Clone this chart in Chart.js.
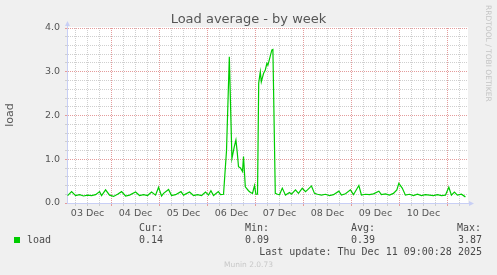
<!DOCTYPE html>
<html>
<head>
<meta charset="utf-8">
<title>Load average - by week</title>
<script src="https://cdn.jsdelivr.net/npm/chart.js@4/dist/chart.umd.min.js"></script>
<style>
  html, body { margin: 0; padding: 0; background: #f0f0f0; }
  #wrap { position: relative; width: 497px; height: 275px; overflow: hidden; }
  #chart { position: absolute; left: 0; top: 0; }
  .txt { position: absolute; white-space: pre; color: #4a4a4a; }
  .mono { font: 10px/12px "DejaVu Sans Mono", monospace; }
  .r { text-align: right; }
</style>
</head>
<body>
<div id="wrap">
  <canvas id="chart" width="497" height="275"></canvas>

  <div class="txt" style="left:0;width:497px;top:12px;text-align:center;font:13px/14px 'DejaVu Sans';color:#555">Load average - by week</div>
  <div class="txt" style="left:-10px;top:108px;width:40px;text-align:center;font:11px/14px 'DejaVu Sans';color:#555;transform:rotate(-90deg)">load</div>
  <div class="txt" style="left:484px;top:5px;writing-mode:vertical-rl;font:7.5px/8px 'DejaVu Sans';color:#c4c4c4">RRDTOOL / TOBI OETIKER</div>

  <!-- legend -->
  <div class="txt mono r" style="right:334px;top:222px">Cur:</div>
  <div class="txt mono r" style="right:228px;top:222px">Min:</div>
  <div class="txt mono r" style="right:122px;top:222px">Avg:</div>
  <div class="txt mono r" style="right:16px;top:222px">Max:</div>
  <div style="position:absolute;left:14px;top:237px;width:6px;height:6px;background:#00cc00"></div>
  <div class="txt mono" style="left:27px;top:234px">load</div>
  <div class="txt mono r" id="v-cur" style="right:334px;top:234px"></div>
  <div class="txt mono r" id="v-min" style="right:228px;top:234px"></div>
  <div class="txt mono r" id="v-avg" style="right:122px;top:234px"></div>
  <div class="txt mono r" id="v-max" style="right:15px;top:234px"></div>
  <div class="txt mono r" style="right:15px;top:246px">Last update: Thu Dec 11 09:00:28 2025</div>
  <div class="txt" style="left:0;width:497px;top:260px;text-align:center;font:7.5px/9px 'DejaVu Sans';color:#c8c8c8">Munin 2.0.73</div>
</div>

<script>
// --- data (hours since 03 Dec 00:00, load) ---
const loadHours = [
  2, 4, 6, 8, 10, 12, 14, 16, 18, 19, 21, 23, 25, 27, 29, 31, 33, 36, 38, 40,
  42, 44, 46, 47.5, 49, 50, 52.5, 54, 56, 58.7, 60, 63, 65, 67, 69, 71, 72.5, 73.7, 75, 77.4,
  78.5, 80, 81.5, 82.9, 84.2, 85.4, 86.2, 86.9, 87.5, 88.5, 89.5, 90, 90.9, 92.5, 93.5, 94.5, 95.5, 96.2, 97, 97.6,
  98.4, 98.9, 100, 100.9, 101.7, 102.2, 102.9, 103.5, 104.2, 104.7, 105.9, 107, 108, 109.4, 111, 113, 114, 116, 117.5, 119.4,
  121, 122, 124, 125.5, 127, 129, 131, 133, 135, 137.7, 139, 141, 143.5, 145, 147.7, 149, 151, 153, 155, 157.7,
  159, 161, 163, 165, 166.7, 167.7, 169.4, 171, 173, 175, 177, 179, 181, 183, 185, 187, 189, 191, 192.7, 194,
  195.5, 197, 199, 201
];
const loadValues = [
  0.17, 0.26, 0.17, 0.19, 0.16, 0.18, 0.17, 0.19, 0.26, 0.17, 0.30, 0.18, 0.15, 0.20, 0.26, 0.16, 0.18, 0.25, 0.17, 0.19,
  0.17, 0.25, 0.18, 0.36, 0.16, 0.22, 0.31, 0.17, 0.19, 0.26, 0.18, 0.25, 0.17, 0.19, 0.17, 0.25, 0.18, 0.28, 0.17, 0.26,
  0.19, 0.20, 1.20, 3.34, 1.02, 1.29, 1.44, 1.14, 0.83, 0.80, 0.72, 1.06, 0.37, 0.28, 0.24, 0.22, 0.40, 0.20, 0.20, 2.74,
  3.00, 2.77, 2.96, 3.04, 3.19, 3.15, 3.27, 3.38, 3.50, 3.51, 0.22, 0.20, 0.19, 0.34, 0.18, 0.24, 0.20, 0.30, 0.22, 0.34,
  0.26, 0.30, 0.39, 0.22, 0.20, 0.18, 0.20, 0.17, 0.19, 0.27, 0.18, 0.21, 0.30, 0.19, 0.40, 0.18, 0.20, 0.19, 0.21, 0.27,
  0.19, 0.21, 0.18, 0.22, 0.30, 0.45, 0.34, 0.18, 0.20, 0.17, 0.20, 0.17, 0.19, 0.18, 0.17, 0.19, 0.17, 0.18, 0.36, 0.18,
  0.25, 0.18, 0.20, 0.14
];
const dayLabels = ['03 Dec', '04 Dec', '05 Dec', '06 Dec', '07 Dec', '08 Dec', '09 Dec', '10 Dec'];
const yTickLabels = ['0.0', '1.0', '2.0', '3.0', '4.0'];
const summary = { cur: '0.14', min: '0.09', avg: '0.39', max: '3.87' };

// visible window in hours (left edge / right edge of the graph)
const X_MIN = 1.7, X_MAX = 202.3;
const MINOR_GRID = '#cfcfcf';
const MAJOR_GRID = '#e49c9c';
const AXIS_COLOR = '#c8cff5';

document.getElementById('v-cur').innerText = summary.cur;
document.getElementById('v-min').innerText = summary.min;
document.getElementById('v-avg').innerText = summary.avg;
document.getElementById('v-max').innerText = summary.max;

// plot background + axis arrows
const muninFrame = {
    id: 'muninFrame',
    beforeDraw(chart) {
        const { ctx, chartArea: a } = chart;
        ctx.save();
        ctx.fillStyle = '#ffffff';
        ctx.fillRect(a.left, a.top - 1, a.right - a.left, a.bottom - a.top + 1);
        ctx.restore();
    },
    afterDraw(chart) {
        const { ctx, chartArea: a } = chart;
        const x0 = Math.round(a.left) + 0.5, y0 = Math.round(a.bottom) + 0.5;
        ctx.save();
        ctx.strokeStyle = AXIS_COLOR;
        ctx.fillStyle = AXIS_COLOR;
        ctx.lineWidth = 1;
        ctx.beginPath();
        ctx.moveTo(x0, a.top); ctx.lineTo(x0, a.top - 3);
        ctx.moveTo(a.right, y0); ctx.lineTo(a.right + 3, y0);
        ctx.stroke();
        // up arrow
        ctx.beginPath();
        ctx.moveTo(x0 - 2.5, a.top - 2);
        ctx.lineTo(x0 + 2.5, a.top - 2);
        ctx.lineTo(x0, a.top - 7);
        ctx.closePath();
        ctx.fill();
        // right arrow
        ctx.beginPath();
        ctx.moveTo(a.right + 1, y0 - 2.5);
        ctx.lineTo(a.right + 1, y0 + 2.5);
        ctx.lineTo(a.right + 6, y0);
        ctx.closePath();
        ctx.fill();
        ctx.restore();
    }
};

function isWhole(v, step) {
    return Math.abs(v / step - Math.round(v / step)) < 1e-6;
}

const ctx = document.getElementById('chart').getContext('2d');
new Chart(ctx, {
    type: 'line',
    data: {
        datasets: [{
            label: 'load',
            data: loadHours.map((h, i) => ({ x: h, y: loadValues[i] })),
            borderColor: '#00cc00',
            borderWidth: 1.2,
            pointRadius: 0,
            tension: 0,
            fill: false
        }]
    },
    options: {
        responsive: false,
        animation: false,
        devicePixelRatio: 1,
        layout: { padding: { left: 0, right: 29, top: 28, bottom: 0 } },
        plugins: {
            legend: { display: false },
            title: { display: false },
            tooltip: { enabled: false }
        },
        scales: {
            x: {
                type: 'linear',
                min: X_MIN,
                max: X_MAX,
                afterBuildTicks(scale) {
                    const ticks = [];
                    for (let h = 6; h < X_MAX; h += 6) ticks.push({ value: h });
                    scale.ticks = ticks;
                },
                afterFit(scale) {
                    scale.height = 72;
                    scale.paddingLeft = 0;
                    scale.paddingRight = 0;
                },
                ticks: {
                    autoSkip: false,
                    maxRotation: 0,
                    minRotation: 0,
                    padding: 2,
                    color: '#555',
                    font: { family: 'DejaVu Sans', size: 9.5 },
                    callback: (v) => {
                        if ((v - 12) % 24 !== 0) return '';
                        return dayLabels[(v - 12) / 24] || '';
                    }
                },
                grid: {
                    color: (c) => isWhole(c.tick.value, 24) ? MAJOR_GRID : MINOR_GRID,
                    tickColor: (c) => isWhole(c.tick.value, 24) ? MAJOR_GRID : MINOR_GRID,
                    tickLength: 3,
                    lineWidth: 1
                },
                border: { display: true, color: AXIS_COLOR, width: 1, dash: [1, 1] }
            },
            y: {
                min: 0,
                max: 4,
                afterFit(scale) {
                    scale.width = 67;
                    scale.paddingTop = 0;
                    scale.paddingBottom = 0;
                },
                ticks: {
                    stepSize: 0.2,
                    autoSkip: false,
                    padding: 5,
                    color: '#555',
                    font: { family: 'DejaVu Sans', size: 9.5 },
                    callback: (v) => isWhole(v, 1) ? yTickLabels[Math.round(v)] : ''
                },
                grid: {
                    color: (c) => isWhole(c.tick.value, 1) ? MAJOR_GRID : MINOR_GRID,
                    tickColor: (c) => isWhole(c.tick.value, 1) ? MAJOR_GRID : MINOR_GRID,
                    tickLength: 2,
                    lineWidth: 1
                },
                border: { display: true, color: AXIS_COLOR, width: 1, dash: [1, 1] }
            }
        }
    },
    plugins: [muninFrame]
});
</script>
</body>
</html>
